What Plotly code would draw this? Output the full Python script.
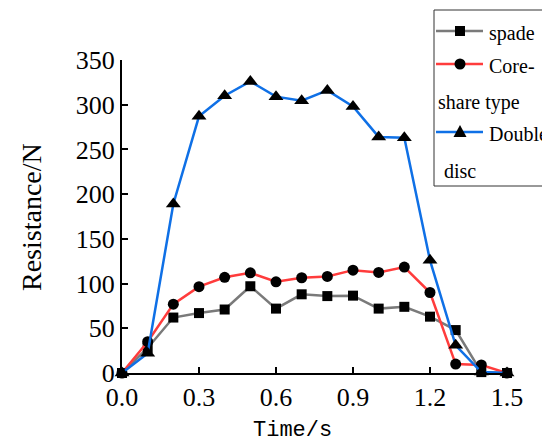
import plotly.graph_objects as go

time_s = [0.0, 0.1, 0.2, 0.3, 0.4, 0.5, 0.6, 0.7, 0.8, 0.9, 1.0, 1.1, 1.2, 1.3, 1.4, 1.5]
spade = [0, 28, 62, 67, 71, 97, 72, 88, 86, 86.5, 72, 74, 63, 48, 1, 0]
core_share = [0, 35, 77, 96.5, 107, 112, 102, 106.5, 108, 115, 112.5, 118.5, 90, 10, 9, 0]
double_disc = [0, 22, 189, 287, 310, 326, 309, 304.5, 316, 298, 264, 263, 126, 31, 1, 0]

x_ticks = [0.0, 0.3, 0.6, 0.9, 1.2, 1.5]
x_tick_labels = ["0.0", "0.3", "0.6", "0.9", "1.2", "1.5"]
y_ticks = [0, 50, 100, 150, 200, 250, 300, 350]

W, H = 542, 444
L, R, T, B = 122, 507, 60, 373

GRAY = "#7a7a7a"
RED = "#ff3c3c"
BLUE = "#0f70e6"
SERIF = "Liberation Serif"


def px(x):
    return (x - L) / (R - L)


def py(y):
    return (B - y) / (B - T)


fig = go.Figure()
series = [
    ("spade", spade, GRAY, "square", 10),
    ("Core-share type", core_share, RED, "circle", 11),
    ("Double disc", double_disc, BLUE, "triangle-up", 13),
]
for name, vals, col, sym, sz in series:
    fig.add_trace(go.Scatter(
        x=time_s, y=vals, name=name, mode="lines+markers",
        line=dict(color=col, width=2.5),
        marker=dict(symbol=sym, size=sz, color="black"),
        cliponaxis=False, showlegend=False,
    ))

shapes = []
annotations = []

# custom legend box
shapes.append(dict(type="rect", xref="paper", yref="paper",
                   x0=px(434), x1=px(600), y0=py(186), y1=py(10),
                   line=dict(color="#333333", width=1), fillcolor="white", layer="above"))

leg_rows = [
    ("spade", 31, GRAY, "square", 10),
    ("Core-", 64, RED, "circle", 11),
    ("Double", 132, BLUE, "triangle-up", 13),
]
for text, yy, col, sym, sz in leg_rows:
    shapes.append(dict(type="line", xref="paper", yref="paper",
                       x0=px(436), x1=px(483), y0=py(yy), y1=py(yy),
                       line=dict(color=col, width=2.5), layer="above"))
    cx = 460
    if sym == "square":
        shapes.append(dict(type="rect", xref="paper", yref="paper",
                           x0=px(cx - 5), x1=px(cx + 5), y0=py(yy + 5), y1=py(yy - 5),
                           fillcolor="black", line=dict(width=0), layer="above"))
    elif sym == "circle":
        shapes.append(dict(type="circle", xref="paper", yref="paper",
                           x0=px(cx - 5.5), x1=px(cx + 5.5), y0=py(yy + 5.5), y1=py(yy - 5.5),
                           fillcolor="black", line=dict(width=0), layer="above"))
    else:
        x0p, x1p, xcp = px(cx - 6.5), px(cx + 6.5), px(cx)
        ytop, ybot = py(yy - 7), py(yy + 5)
        shapes.append(dict(type="path", xref="paper", yref="paper",
                           path=f"M {x0p},{ybot} L {x1p},{ybot} L {xcp},{ytop} Z",
                           fillcolor="black", line=dict(width=0), layer="above"))
    annotations.append(dict(text=text, xref="paper", yref="paper",
                            x=px(487), y=py(yy + 2), xanchor="left", yanchor="middle",
                            showarrow=False, font=dict(family=SERIF, size=20, color="black")))

for text, xx, yy in [("share type", 436, 102), ("disc", 442, 171)]:
    annotations.append(dict(text=text, xref="paper", yref="paper",
                            x=px(xx), y=py(yy), xanchor="left", yanchor="middle",
                            showarrow=False, font=dict(family=SERIF, size=20, color="black")))

# axis titles
annotations.append(dict(text="Time/s", xref="paper", yref="paper",
                        x=px(292), y=py(430), xanchor="center", yanchor="middle",
                        showarrow=False, font=dict(family="Liberation Mono", size=22, color="black")))
annotations.append(dict(text="Resistance/N", xref="paper", yref="paper",
                        x=px(31), y=py(217), xanchor="center", yanchor="middle", textangle=-90,
                        showarrow=False, font=dict(family=SERIF, size=28, color="black")))

fig.update_layout(
    width=W, height=H,
    margin=dict(l=L, r=W - R, t=T, b=H - B, pad=0),
    paper_bgcolor="white", plot_bgcolor="white",
    shapes=shapes, annotations=annotations,
    xaxis=dict(range=[0, 1.5], tickvals=x_ticks, ticktext=x_tick_labels,
               showline=True, linecolor="black", linewidth=2, mirror=False,
               ticks="inside", ticklen=6, tickwidth=2, tickcolor="black",
               showgrid=False, zeroline=False,
               tickfont=dict(family=SERIF, size=26, color="black")),
    yaxis=dict(range=[0, 350], tickvals=y_ticks,
               showline=True, linecolor="black", linewidth=2, mirror=False,
               ticks="inside", ticklen=6, tickwidth=2, tickcolor="black",
               showgrid=False, zeroline=False,
               tickfont=dict(family=SERIF, size=26, color="black")),
)

fig.write_html("out.html",
               config={"displayModeBar": False},
               post_script="document.body.style.margin='0';document.body.style.overflow='hidden';")
